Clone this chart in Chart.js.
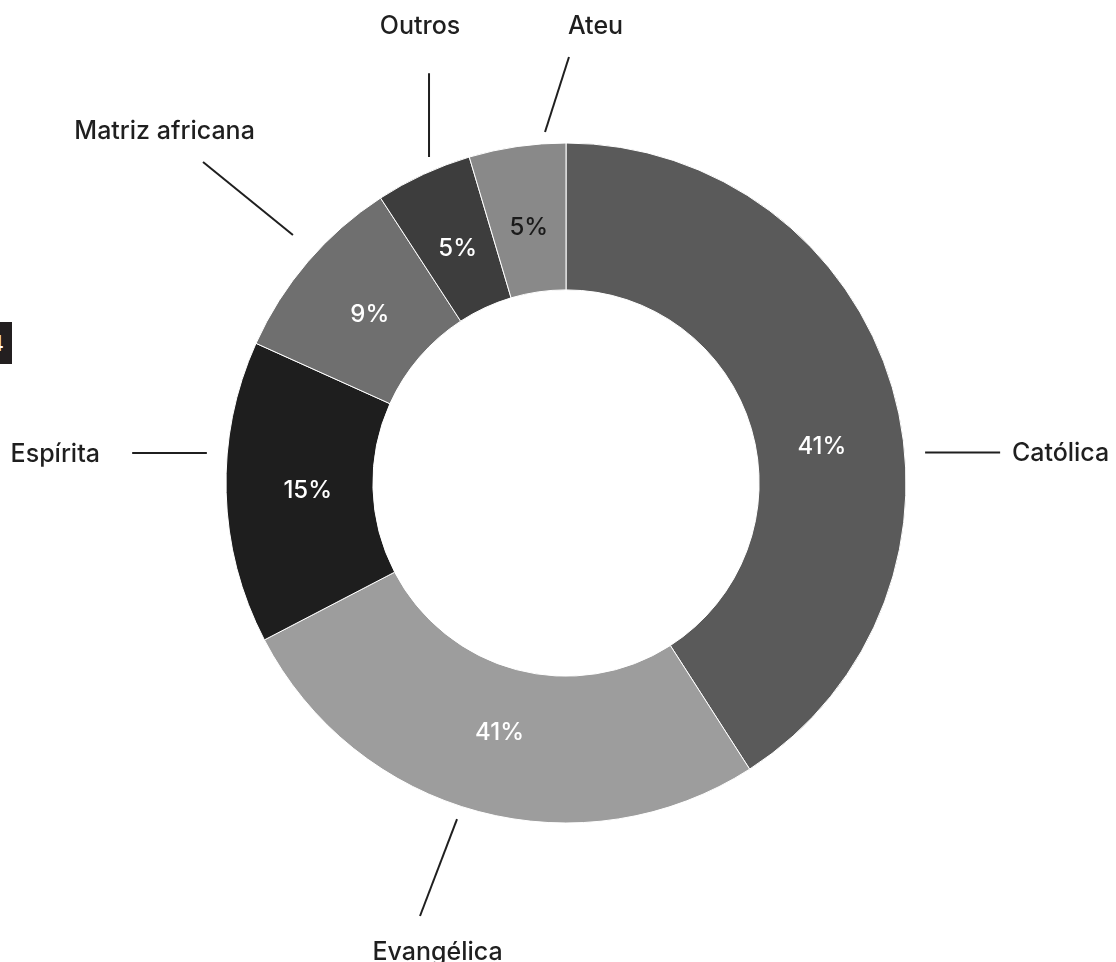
<!DOCTYPE html>
<html>
<head>
<meta charset="utf-8">
<script src="https://cdn.jsdelivr.net/npm/chart.js@4.4.1/dist/chart.umd.min.js"></script>
<style>
  html, body { margin: 0; padding: 0; background: #ffffff; }
  #wrap { position: relative; width: 1116px; height: 962px; overflow: hidden; }
  #chart { position: absolute; left: 0; top: 0; }
  #tag { position: absolute; left: 0; top: 322px; width: 12px; height: 42px; background: #231f20; overflow: hidden; }
  #tag span { position: absolute; right: 8px; top: 8px; color: #ffffff; font: 500 22px Inter, sans-serif; line-height: 26px; }
</style>
</head>
<body>
<div id="wrap">
  <canvas id="chart" width="1116" height="962"></canvas>
  <div id="tag"><span>4</span></div>
</div>
<script>
// ---- data ----
const categories = ['Católica', 'Evangélica', 'Espírita', 'Matriz africana', 'Outros', 'Ateu'];
const values = [41, 26.5, 14.4, 9.1, 4.6, 4.6];
const valueLabels = ['41%', '41%', '15%', '9%', '5%', '5%'];

// ---- styles ----
const sliceColors = ['#5a5a5a', '#9d9d9d', '#1e1e1e', '#6f6f6f', '#3d3d3d', '#898989'];
const valueLabelColors = ['#ffffff', '#ffffff', '#ffffff', '#ffffff', '#ffffff', '#1a1a1a'];
const FONT = 'Inter, "Noto Sans", sans-serif';

// layout of annotations (angles in degrees clockwise from 12 o'clock, radii as fraction of outer radius)
const valueLabelLayout = { radius: 0.76, angleNudge: [8.4, 0, 0, 0, 0, 0] };
const callouts = [
  { line: [[85.14, 1.060], [85.98, 1.280]], text: [87.18, 1.313], align: 'left' },
  { line: [[197.97, 1.039], [198.63, 1.344]], text: [195.06, 1.454], align: 'center' },
  { line: [[274.78, 1.060], [273.95, 1.279]], text: [272.58, 1.372], align: 'right' },
  { line: [[312.25, 1.085], [311.48, 1.425]], text: [310.6, 1.555], align: 'center' },
  { line: [[337.21, 1.040], [341.52, 1.271]], text: [341.99, 1.389], align: 'center' },
  { line: [[356.58, 1.034], [0.40, 1.253]], text: [3.76, 1.324], align: 'center' }
];

function polar(cx, cy, deg, r) {
  const t = (deg - 90) * Math.PI / 180;
  return [cx + r * Math.cos(t), cy + r * Math.sin(t)];
}

const annotationPlugin = {
  id: 'annotations',
  afterDatasetsDraw(chart) {
    const ctx = chart.ctx;
    const meta = chart.getDatasetMeta(0);
    ctx.save();
    meta.data.forEach((arc, i) => {
      const cx = arc.x, cy = arc.y, R = arc.outerRadius;
      // value label
      const midDeg = ((arc.startAngle + arc.endAngle) / 2) * 180 / Math.PI + 90 + valueLabelLayout.angleNudge[i];
      const [lx, ly] = polar(cx, cy, midDeg, R * valueLabelLayout.radius);
      ctx.font = '500 24px ' + FONT;
      ctx.fillStyle = valueLabelColors[i];
      ctx.textAlign = 'center';
      ctx.textBaseline = 'middle';
      ctx.fillText(valueLabels[i], lx, ly);
      // callout line
      const c = callouts[i];
      const [x1, y1] = polar(cx, cy, c.line[0][0], R * c.line[0][1]);
      const [x2, y2] = polar(cx, cy, c.line[1][0], R * c.line[1][1]);
      ctx.beginPath();
      ctx.moveTo(x1, y1);
      ctx.lineTo(x2, y2);
      ctx.strokeStyle = '#1f1f1f';
      ctx.lineWidth = 2;
      ctx.stroke();
      // category text (anchor on baseline)
      const [tx, ty] = polar(cx, cy, c.text[0], R * c.text[1]);
      ctx.font = '500 25px ' + FONT;
      ctx.fillStyle = '#1f1f1f';
      ctx.textAlign = c.align;
      ctx.textBaseline = 'alphabetic';
      ctx.fillText(categories[i], tx, ty);
    });
    ctx.restore();
  }
};

new Chart(document.getElementById('chart'), {
  type: 'doughnut',
  data: {
    labels: categories,
    datasets: [{
      data: values,
      backgroundColor: sliceColors,
      borderColor: '#ffffff',
      borderWidth: 1
    }]
  },
  options: {
    responsive: false,
    animation: false,
    devicePixelRatio: 1,
    radius: 340,
    cutout: '56.8%',
    layout: { padding: { left: 16, top: 4, right: 0, bottom: 0 } },
    plugins: {
      legend: { display: false },
      tooltip: { enabled: false }
    }
  },
  plugins: [annotationPlugin]
});
</script>
</body>
</html>
